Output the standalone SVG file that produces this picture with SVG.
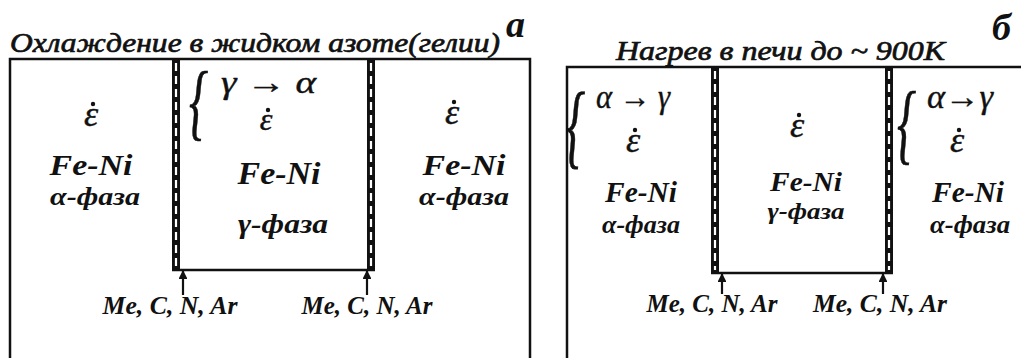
<svg xmlns="http://www.w3.org/2000/svg" width="1021" height="358" viewBox="0 0 1021 358">
<style>
.t{font-family:"Liberation Serif","Times New Roman",serif;font-style:italic;font-weight:bold;fill:#111}
.h{font-family:"Liberation Serif","Times New Roman",serif;font-style:italic;font-weight:normal;fill:#111;stroke:#111;stroke-width:0.7}
.g{font-family:"Liberation Serif","Times New Roman",serif;font-style:italic;fill:#111;stroke:#111;stroke-width:0.4}
.box{fill:none;stroke:#111;stroke-width:2.5}
.strip{fill:#111}
.dash{stroke:#fff;stroke-width:2.2;stroke-dasharray:8 5}
.arr{stroke:#111;stroke-width:2.2;marker-end:url(#ah)}
.dot{fill:#111}
</style>
<defs>
<marker id="ah" viewBox="0 0 10 10" refX="9" refY="5" markerWidth="4" markerHeight="4" orient="auto">
<path d="M0,0 L10,5 L0,10 z" fill="#111"/>
</marker>
</defs>
<rect width="1021" height="358" fill="#fff"/>

<g id="panel-a">
<text class="h" x="10" y="52" font-size="28" textLength="490" lengthAdjust="spacingAndGlyphs">Охлаждение в жидком азоте(гелии)</text>
<text class="t" x="506" y="37" font-size="38">a</text>
<path class="box" d="M10,370 V59 H530 V370"/>
<g id="a-inner">
<rect class="strip" x="172" y="59" width="8" height="212"/>
<line class="dash" x1="176" y1="63" x2="176" y2="267"/>
<rect class="strip" x="367" y="59" width="8" height="212"/>
<line class="dash" x1="371" y1="63" x2="371" y2="267"/>
<line x1="172" y1="270" x2="375" y2="270" stroke="#111" stroke-width="2.5"/>
</g>
<g id="a-left">
<text class="g" x="91" y="126" font-size="36" text-anchor="middle">ε</text>
<circle class="dot" cx="93" cy="104" r="2.2"/>
<text class="t" x="91" y="175" font-size="30" text-anchor="middle" textLength="83" lengthAdjust="spacingAndGlyphs">Fe-Ni</text>
<text class="t" x="95" y="205" font-size="25" text-anchor="middle" textLength="90" lengthAdjust="spacingAndGlyphs">α-фаза</text>
</g>
<g id="a-center">
<text class="g" x="189" y="130" font-size="48" transform="translate(189,130) scale(1,1.75) translate(-189,-130)">{</text>
<text class="g" x="221" y="93" font-size="32" textLength="95" lengthAdjust="spacingAndGlyphs">γ → α</text>
<text class="g" x="266" y="130" font-size="32" text-anchor="middle">ε</text>
<circle class="dot" cx="268" cy="110" r="2.2"/>
<text class="t" x="279" y="184" font-size="32" text-anchor="middle" textLength="83" lengthAdjust="spacingAndGlyphs">Fe-Ni</text>
<text class="t" x="283" y="233" font-size="28" text-anchor="middle" textLength="90" lengthAdjust="spacingAndGlyphs">γ-фаза</text>
</g>
<g id="a-right">
<text class="g" x="452" y="124" font-size="36" text-anchor="middle">ε</text>
<circle class="dot" cx="454" cy="102" r="2.2"/>
<text class="t" x="464" y="175" font-size="30" text-anchor="middle" textLength="83" lengthAdjust="spacingAndGlyphs">Fe-Ni</text>
<text class="t" x="464" y="205" font-size="25" text-anchor="middle" textLength="90" lengthAdjust="spacingAndGlyphs">α-фаза</text>
</g>
<g id="a-label1"><text class="t" x="170" y="314" font-size="26" text-anchor="middle" textLength="135" lengthAdjust="spacingAndGlyphs">Me, C, N, Ar</text></g>
<g id="a-label2"><text class="t" x="367" y="314" font-size="26" text-anchor="middle" textLength="131" lengthAdjust="spacingAndGlyphs">Me, C, N, Ar</text></g>
</g>

<g id="panel-b">
<text class="h" x="616" y="60" font-size="28" textLength="329" lengthAdjust="spacingAndGlyphs">Нагрев в печи до ~ 900К</text>
<text class="t" x="992" y="40" font-size="38">б</text>
<path class="box" d="M567,370 V67 H1030"/>
<g id="b-inner">
<rect class="strip" x="711" y="67" width="8" height="207"/>
<line class="dash" x1="715" y1="71" x2="715" y2="270"/>
<rect class="strip" x="885" y="67" width="8" height="207"/>
<line class="dash" x1="889" y1="71" x2="889" y2="270"/>
<line x1="711" y1="273" x2="893" y2="273" stroke="#111" stroke-width="2.5"/>
</g>
<g id="b-left">
<text class="g" x="566" y="157" font-size="48" transform="translate(566,157) scale(1,1.95) translate(-566,-157)">{</text>
<text class="g" x="596" y="108" font-size="34" textLength="74" lengthAdjust="spacingAndGlyphs">α → γ</text>
<text class="g" x="633" y="152" font-size="36" text-anchor="middle">ε</text>
<circle class="dot" cx="635" cy="130" r="2.2"/>
<text class="t" x="641" y="202" font-size="29" text-anchor="middle" textLength="72" lengthAdjust="spacingAndGlyphs">Fe-Ni</text>
<text class="t" x="641" y="233" font-size="26" text-anchor="middle" textLength="78" lengthAdjust="spacingAndGlyphs">α-фаза</text>
</g>
<g id="b-center">
<text class="g" x="797" y="137" font-size="36" text-anchor="middle">ε</text>
<circle class="dot" cx="799" cy="115" r="2.2"/>
<text class="t" x="806" y="191" font-size="28" text-anchor="middle" textLength="72" lengthAdjust="spacingAndGlyphs">Fe-Ni</text>
<text class="t" x="806" y="219" font-size="23" text-anchor="middle" textLength="77" lengthAdjust="spacingAndGlyphs">γ-фаза</text>
</g>
<g id="b-right">
<text class="g" x="897" y="153" font-size="48" transform="translate(897,153) scale(1,1.85) translate(-897,-153)">{</text>
<text class="g" x="927" y="108" font-size="34" textLength="66" lengthAdjust="spacingAndGlyphs">α→γ</text>
<text class="g" x="957" y="152" font-size="36" text-anchor="middle">ε</text>
<circle class="dot" cx="959" cy="130" r="2.2"/>
<text class="t" x="968" y="202" font-size="29" text-anchor="middle" textLength="72" lengthAdjust="spacingAndGlyphs">Fe-Ni</text>
<text class="t" x="970" y="233" font-size="26" text-anchor="middle" textLength="80" lengthAdjust="spacingAndGlyphs">α-фаза</text>
</g>
<g id="b-label1"><text class="t" x="712" y="312" font-size="25" text-anchor="middle" textLength="131" lengthAdjust="spacingAndGlyphs">Me, C, N, Ar</text></g>
<g id="b-label2"><text class="t" x="880" y="312" font-size="25" text-anchor="middle" textLength="134" lengthAdjust="spacingAndGlyphs">Me, C, N, Ar</text></g>
</g>

<g id="connectors">
<line class="arr" x1="183" y1="295" x2="183" y2="271"/>
<line class="arr" x1="367" y1="295" x2="367" y2="271"/>
<line class="arr" x1="722" y1="294" x2="722" y2="274"/>
<line class="arr" x1="883" y1="294" x2="883" y2="274"/>
</g>
</svg>
